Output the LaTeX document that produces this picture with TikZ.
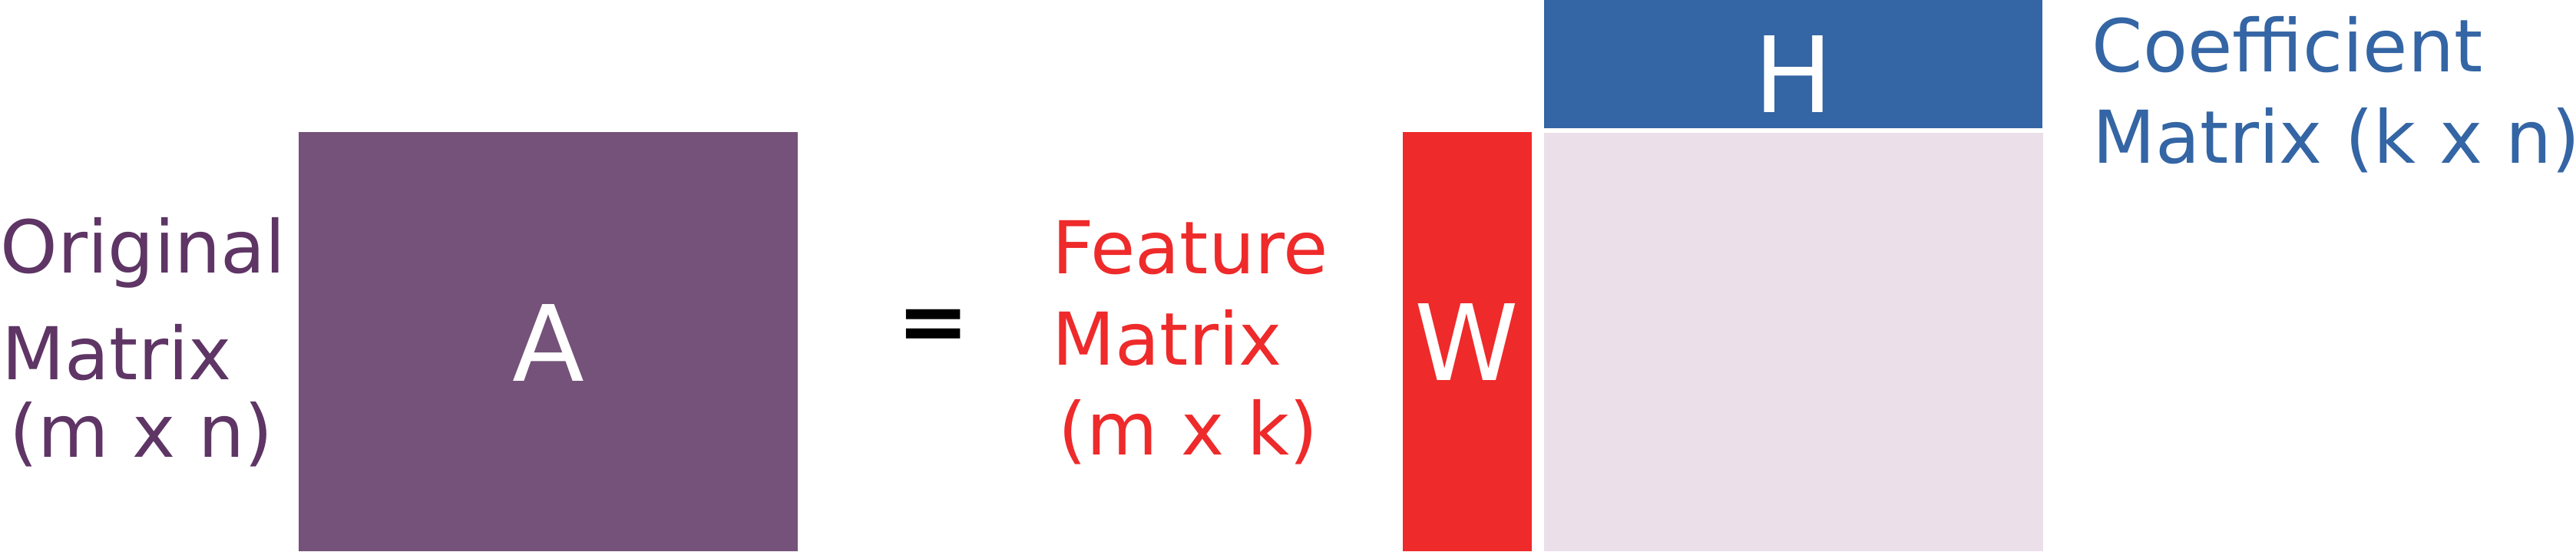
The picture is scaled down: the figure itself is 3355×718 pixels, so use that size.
\documentclass[tikz,border=0pt]{standalone}
\usepackage{fontspec}
\setmainfont{DejaVu Sans}
\definecolor{origpurple}{RGB}{117,82,122}
\definecolor{origtext}{RGB}{94,53,101}
\definecolor{featred}{RGB}{238,42,43}
\definecolor{coefblue}{RGB}{52,101,164}
\definecolor{prodpink}{RGB}{235,224,234}
\tikzset{
  lbl/.style={anchor=base west,inner sep=0pt,font=\fontsize{27}{32}\selectfont},
  letter/.style={anchor=base,inner sep=0pt,text=white,font=\fontsize{39}{46}\selectfont}
}
\begin{document}
\begin{tikzpicture}[x=0.01cm,y=-0.01cm]
  \useasboundingbox (0,0) rectangle (3355,718);
  % matrix blocks
  \fill[origpurple] (389,172) rectangle (1039,718);
  \fill[featred] (1827,172) rectangle (1995,718);
  \fill[prodpink] (2011,173) rectangle (2661,718);
  \fill[coefblue] (2011,0) rectangle (2660,167);
  \node[letter] (A) at (714,496) {A};
  \node[letter] (W) at (1910,495) {W};
  \node[letter] (H) at (2336,146) {H};
  \node[anchor=base,inner sep=0pt,font=\bfseries\fontsize{32}{38}\selectfont] (eq) at (1216,457) {=};
  % labels
  \node[lbl,text=origtext] (orig1) at (0,355) {Original};
  \node[lbl,text=origtext] (orig2) at (2,494) {Matrix};
  \node[lbl,text=origtext] (orig3) at (12,595) {(m x n)};
  \node[lbl,text=featred] (feat1) at (1370,356) {Feature};
  \node[lbl,text=featred] (feat2) at (1370,475) {Matrix};
  \node[lbl,text=featred] (feat3) at (1378,592) {(m x k)};
  \node[lbl,text=coefblue] (coef1) at (2724,93) {Coefficient};
  \node[lbl,text=coefblue] (coef2) at (2725,212) {Matrix (k x n)};
\end{tikzpicture}
\end{document}
